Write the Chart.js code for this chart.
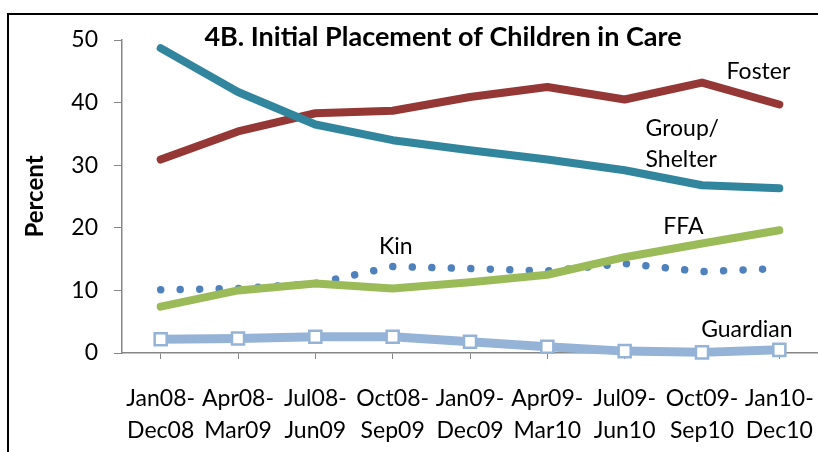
<!DOCTYPE html>
<html>
<head>
<meta charset="utf-8">
<script src="https://cdn.jsdelivr.net/npm/chart.js@4.4.1/dist/chart.umd.min.js"></script>
<style>
  html, body { margin: 0; padding: 0; background: #fff; overflow: hidden; }
  #wrap { position: relative; width: 818px; height: 452px; }
  #frame { position: absolute; left: 7px; top: 13px; width: 900px; height: 600px; border: 2px solid #000; box-sizing: border-box; }
  canvas { position: absolute; left: 0; top: 0; }
</style>
</head>
<body>
<div id="wrap">
  <div id="frame"></div>
  <canvas id="chart" width="818" height="452"></canvas>
</div>
<script>
const periods = [
  ["Jan08-", "Dec08"], ["Apr08-", "Mar09"], ["Jul08-", "Jun09"],
  ["Oct08-", "Sep09"], ["Jan09-", "Dec09"], ["Apr09-", "Mar10"],
  ["Jul09-", "Jun10"], ["Oct09-", "Sep10"], ["Jan10-", "Dec10"]
];
const foster   = [30.9, 35.4, 38.3, 38.7, 40.9, 42.5, 40.5, 43.2, 39.7];
const group    = [48.7, 41.7, 36.5, 34.0, 32.4, 30.9, 29.2, 26.8, 26.3];
const ffa      = [7.4, 10.0, 11.1, 10.3, 11.3, 12.5, 15.3, 17.5, 19.6];
const kin      = [10.1, 10.3, 11.1, 13.8, 13.5, 13.1, 14.3, 13.0, 13.5];
const guardian = [2.2, 2.3, 2.6, 2.6, 1.8, 1.0, 0.3, 0.1, 0.5];

const FONT = "Lato, 'Open Sans', sans-serif";

// series names written beside the lines, placed in data units
const seriesLabels = [
  { text: "Foster",   x: 7.73, y: 45.0, align: "center" },
  { text: "Group/",   x: 6.27, y: 35.9, align: "left" },
  { text: "Shelter",  x: 6.27, y: 30.9, align: "left" },
  { text: "Kin",      x: 3.04, y: 17.0, align: "center" },
  { text: "FFA",      x: 6.76, y: 20.2, align: "center" },
  { text: "Guardian", x: 7.58, y: 3.7,  align: "center" }
];

const textPlugin = {
  id: "textPlugin",
  afterDraw(chart) {
    const { ctx, scales } = chart;
    ctx.save();
    ctx.fillStyle = "#000";
    ctx.textBaseline = "middle";
    ctx.font = "bold 27px " + FONT;
    ctx.textAlign = "center";
    ctx.fillText("4B. Initial Placement of Children in Care", 443, 37);
    ctx.font = "23px " + FONT;
    for (const l of seriesLabels) {
      ctx.textAlign = l.align;
      ctx.fillText(l.text, scales.x.getPixelForValue(l.x), scales.y.getPixelForValue(l.y));
    }
    ctx.restore();
  }
};

new Chart(document.getElementById("chart"), {
  type: "line",
  data: {
    labels: periods,
    datasets: [
      { label: "Group/Shelter", data: group, borderColor: "#31859C", borderWidth: 8, order: 1 },
      { label: "Foster", data: foster, borderColor: "#953735", borderWidth: 8, order: 2 },
      { label: "FFA", data: ffa, borderColor: "#9BBB59", borderWidth: 8, order: 3 },
      { label: "Kin", data: kin, borderColor: "#4F81BD", borderWidth: 7.5, borderDash: [0.01, 19.5], borderCapStyle: "round", order: 4 },
      { label: "Guardian", data: guardian, borderColor: "#95B3D7", borderWidth: 9, order: 0,
        pointStyle: "rect", pointRadius: 8.5, pointBackgroundColor: "#fff", pointBorderColor: "#95B3D7", pointBorderWidth: 2.5 }
    ].map(d => Object.assign({ pointRadius: 0, tension: 0, fill: false, clip: false, borderCapStyle: "round", borderJoinStyle: "round" }, d))
  },
  options: {
    responsive: false,
    animation: false,
    events: [],
    // no auto padding for the marker size, the plot runs to the right edge
    layout: { autoPadding: false, padding: { left: 0, right: 0, top: 40, bottom: 0 } },
    plugins: { legend: { display: false }, tooltip: { enabled: false } },
    scales: {
      x: {
        offset: true,
        grid: { drawOnChartArea: false, drawTicks: true, tickLength: 6, color: "#868686", offset: false },
        border: { display: true, color: "#868686", width: 1.5 },
        ticks: { color: "#000", font: { family: FONT, size: 23, lineHeight: 1.38 }, padding: 24, maxRotation: 0, autoSkip: false },
        afterFit(scale) {
          scale.height = 99;
          scale.paddingLeft = 0;
          scale.paddingRight = 0;
        }
      },
      y: {
        min: 0, max: 50,
        ticks: { stepSize: 10, color: "#000", font: { family: FONT, size: 23 }, padding: 16 },
        grid: { drawOnChartArea: false, drawTicks: true, tickLength: 8, color: "#868686" },
        border: { display: true, color: "#868686", width: 1.5 },
        title: { display: true, text: "Percent", color: "#000", font: { family: FONT, size: 24, weight: "bold" }, padding: { top: 21, bottom: 0 } },
        afterFit(scale) { scale.width = 122; }
      }
    }
  },
  plugins: [textPlugin]
});
</script>
</body>
</html>
